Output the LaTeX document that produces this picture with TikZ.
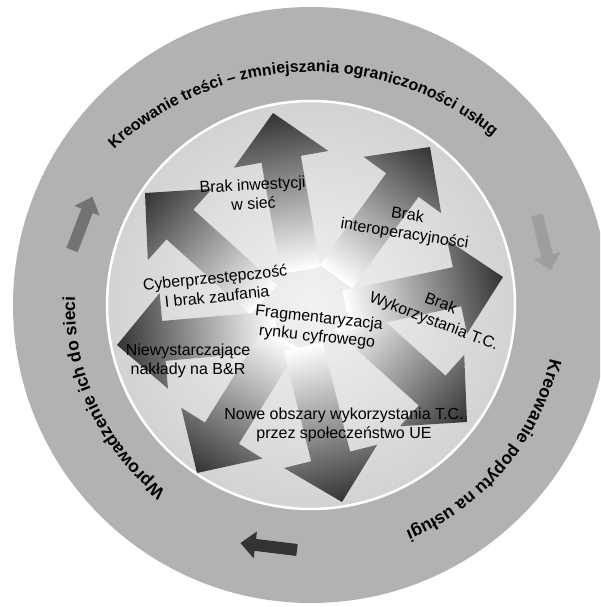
\documentclass[tikz,border=0pt]{standalone}
\usepackage{fontspec}
\setmainfont{Liberation Sans}
\usepackage{tikz}
\usetikzlibrary{decorations.text}

\colorlet{disccenter}{black!5}
\colorlet{discedge}{black!30}
\pgfdeclareradialshading{discshade}{\pgfpointorigin}{color(0bp)=(disccenter); color(50bp)=(discedge)}

\newcommand{\ringfont}{\fontsize{16}{18}\selectfont\bfseries}
\newcommand{\sidefont}{\fontsize{17.5}{19}\selectfont\bfseries}
\newcommand{\boxfont}{\fontsize{16}{19}\selectfont}

\tikzset{
  ringtext/.style={decorate, decoration={text along path, text align=center, text={|\ringfont|#1}}},
  sidetext/.style={decorate, decoration={text along path, text align=center, text={|\sidefont|#1}}},
  bigarrow/.style={left color=white, right color=black!80},
  boxtext/.style={align=center, font=\boxfont, text=black, inner sep=0pt}
}

\begin{document}
\begin{tikzpicture}[x=1pt,y=1pt]
\useasboundingbox (0,0) rectangle (600,607);
\clip (0,0) rectangle (600,607);

% ring and disc
\fill[black!30] (311,302) circle[radius=298];
\shade[shading=discshade] (311,302) circle[radius=204];

% wide arrows: tip x / tip y / angle
\foreach \tx/\ty/\ang in {273/494/100, 145/414/138, 117/262/185, 197/134/238,
                          342/105/284, 467/185/318, 503/330/12, 430/460/54}{
  \begin{scope}[transform canvas={shift={(\tx,\ty)},rotate=\ang}]
    \shade[bigarrow] (-160,-20) -- (-47,-20) -- (-47,-48) -- (0,0) -- (-47,48) -- (-47,20) -- (-160,20) -- cycle;
  \end{scope}
}
\draw[white, line width=2.5] (311,302) circle[radius=204];

% small arrows in the ring
\foreach \tx/\ty/\ang/\col in {72/357/69/black!55, 537/392/-76/black!38, 297/57/173/black!80}{
  \begin{scope}[shift={(\tx,\ty)}, rotate=\ang]
    \fill[\col] (0,-6) -- (42,-6) -- (42,-13.5) -- (57,0) -- (42,13.5) -- (42,6) -- (0,6) -- cycle;
  \end{scope}
}

% ring texts
\path[ringtext={Kreowanie treści – zmniejszania ograniczoności usług}]
  (311,247) ++(155:288) arc[start angle=155, end angle=29, radius=288];
\path[sidetext={Wprowadzenie ich do sieci}]
  (311,302) ++(255:236) arc[start angle=255, end angle=155, radius=236];
\path[sidetext={Kreowanie popytu na usługi}]
  (311,302) ++(10:245) arc[start angle=10, end angle=-90, radius=245];

% texts on the arrows
\node[boxtext, rotate=3] (siec) at (253,413) {Brak inwestycji\\w sieć};
\node[boxtext, rotate=-9] (interop) at (406,382) {Brak\\interoperacyjności};
\node[boxtext, rotate=-21] (wykorz) at (437,294) {Brak\\Wykorzystania T.C.};
\node[boxtext, rotate=6] (cyber) at (216,320) {Cyberprzestępczość\\I brak zaufania};
\node[boxtext, rotate=-6] (fragm) at (318,279) {Fragmentaryzacja\\rynku cyfrowego};
\node[boxtext] (naklady) at (188,246) {Niewystarczające\\nakłady na B\&R};
\node[boxtext] (obszary) at (344,182) {Nowe obszary wykorzystania T.C.\\przez społeczeństwo UE};
\end{tikzpicture}
\end{document}
